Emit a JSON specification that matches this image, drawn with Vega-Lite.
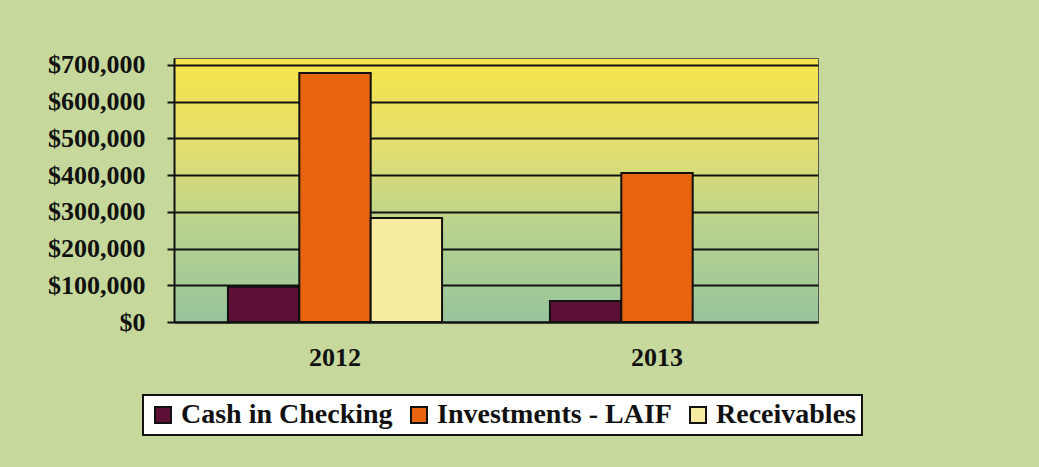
{
  "$schema": "https://vega.github.io/schema/vega-lite/v6.json",
  "width": 644,
  "height": 264,
  "autosize": {"type": "none"},
  "padding": {"left": 174, "top": 58, "right": 221, "bottom": 145},
  "background": "#c6d89c",
  "data": {
    "values": [
      {"year": "2012", "category": "Cash in Checking", "amount": 96000},
      {"year": "2012", "category": "Investments - LAIF", "amount": 678000},
      {"year": "2012", "category": "Receivables", "amount": 283000},
      {"year": "2013", "category": "Cash in Checking", "amount": 57000},
      {"year": "2013", "category": "Investments - LAIF", "amount": 406000}
    ]
  },
  "mark": {"type": "bar", "stroke": "#111111", "strokeWidth": 2},
  "encoding": {
    "x": {
      "field": "year",
      "type": "nominal",
      "scale": {"paddingInner": 0.335, "paddingOuter": 0.1675},
      "axis": {
        "title": null,
        "labelAngle": 0,
        "labelFont": "Liberation Serif",
        "labelFontWeight": "bold",
        "labelFontSize": 26,
        "labelColor": "#111111",
        "labelPadding": 22,
        "ticks": false,
        "tickSize": 0,
        "domain": true,
        "domainColor": "#111111",
        "domainWidth": 2,
        "grid": false
      }
    },
    "xOffset": {
      "field": "category",
      "type": "nominal",
      "sort": ["Cash in Checking", "Investments - LAIF", "Receivables"],
      "scale": {"paddingInner": 0, "paddingOuter": 0}
    },
    "y": {
      "field": "amount",
      "type": "quantitative",
      "scale": {"domain": [0, 719000], "nice": false},
      "axis": {
        "title": null,
        "values": [0, 100000, 200000, 300000, 400000, 500000, 600000, 700000],
        "format": "$,.0f",
        "labelFont": "Liberation Serif",
        "labelFontWeight": "bold",
        "labelFontSize": 26,
        "labelColor": "#111111",
        "labelPadding": 22,
        "tickSize": 7,
        "tickWidth": 2,
        "tickColor": "#111111",
        "domainColor": "#111111",
        "domainWidth": 2,
        "grid": true,
        "gridColor": "#111111",
        "gridWidth": 2,
        "gridOpacity": 1
      }
    },
    "color": {
      "field": "category",
      "type": "nominal",
      "scale": {
        "domain": ["Cash in Checking", "Investments - LAIF", "Receivables"],
        "range": ["#5e0f36", "#e8640f", "#f7eba0"]
      },
      "legend": {
        "title": null,
        "orient": "none",
        "legendX": -31,
        "legendY": 337,
        "direction": "horizontal",
        "columns": 3,
        "symbolType": "square",
        "symbolSize": 256,
        "symbolStrokeColor": "#111111",
        "symbolStrokeWidth": 2,
        "labelFont": "Liberation Serif",
        "labelFontWeight": "bold",
        "labelFontSize": 28,
        "labelColor": "#111111",
        "labelOffset": 4,
        "labelLimit": 400,
        "columnPadding": 12,
        "padding": 6,
        "fillColor": "#ffffff",
        "strokeColor": "#111111"
      }
    }
  },
  "config": {
    "font": "Liberation Serif",
    "legend": {
      "strokeWidth": 2
    },
    "view": {
      "stroke": "#555555",
      "strokeWidth": 1,
      "fill": {
        "gradient": "linear",
        "x1": 0, "y1": 0, "x2": 0, "y2": 1,
        "stops": [
          {"offset": 0, "color": "#f8e54a"},
          {"offset": 0.35, "color": "#e2de72"},
          {"offset": 0.65, "color": "#b6d28e"},
          {"offset": 1, "color": "#98c49c"}
        ]
      }
    }
  }
}
